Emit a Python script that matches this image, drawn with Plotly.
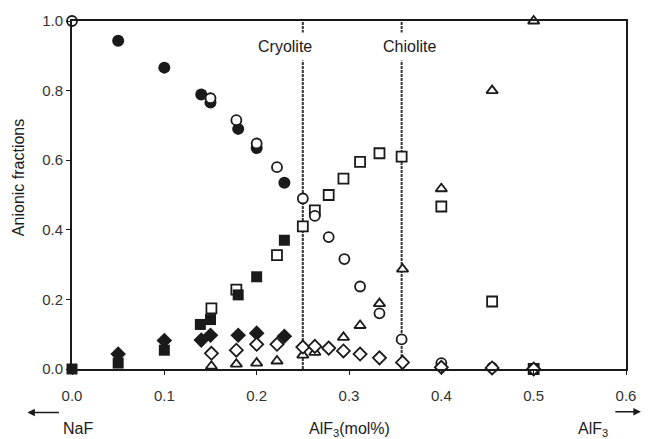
import plotly.graph_objects as go

# Filled circles
fc_x = [0.05, 0.10, 0.14, 0.15, 0.18, 0.20, 0.23]
fc_y = [0.943, 0.866, 0.789, 0.766, 0.69, 0.635, 0.535]
# Open circles
oc_x = [0.0, 0.15, 0.178, 0.20, 0.222, 0.25, 0.263, 0.278, 0.295, 0.312, 0.333, 0.357, 0.40, 0.455, 0.50]
oc_y = [1.0, 0.778, 0.715, 0.648, 0.58, 0.49, 0.44, 0.379, 0.316, 0.237, 0.16, 0.085, 0.017, 0.004, 0.0]
# Filled squares
fs_x = [0.0, 0.05, 0.10, 0.139, 0.15, 0.18, 0.20, 0.23]
fs_y = [0.0, 0.017, 0.054, 0.128, 0.142, 0.213, 0.265, 0.37]
# Open squares
os_x = [0.151, 0.178, 0.222, 0.25, 0.263, 0.278, 0.294, 0.312, 0.333, 0.357, 0.40, 0.455, 0.50]
os_y = [0.174, 0.228, 0.327, 0.41, 0.456, 0.50, 0.547, 0.595, 0.62, 0.61, 0.467, 0.194, 0.0]
# Filled diamonds
fd_x = [0.05, 0.10, 0.14, 0.15, 0.18, 0.20, 0.23]
fd_y = [0.043, 0.082, 0.083, 0.097, 0.097, 0.103, 0.094]
# Open diamonds
od_x = [0.151, 0.178, 0.20, 0.222, 0.25, 0.263, 0.278, 0.294, 0.312, 0.333, 0.358, 0.40, 0.455, 0.50]
od_y = [0.045, 0.054, 0.071, 0.071, 0.063, 0.065, 0.06, 0.052, 0.043, 0.032, 0.019, 0.005, 0.003, 0.0]
# Open triangles
ot_x = [0.151, 0.178, 0.20, 0.222, 0.25, 0.263, 0.278, 0.294, 0.312, 0.333, 0.358, 0.40, 0.455, 0.50]
ot_y = [0.008, 0.014, 0.017, 0.023, 0.04, 0.048, 0.063, 0.091, 0.125, 0.188, 0.287, 0.518, 0.80, 1.0]

phases = ["Cryolite", "Chiolite"]
phase_x = [0.25, 0.357]

x_ticks = [0.0, 0.1, 0.2, 0.3, 0.4, 0.5, 0.6]
y_ticks = [0.0, 0.2, 0.4, 0.6, 0.8, 1.0]

INK = "#1a1a1a"
FONT = "Liberation Sans, Arial, sans-serif"

fig = go.Figure()

# vertical phase lines
for px in phase_x:
    fig.add_trace(go.Scatter(x=[px, px], y=[0, 1], mode="lines",
                             line=dict(color="#333", width=2, dash="3px,1px"),
                             hoverinfo="skip", showlegend=False, cliponaxis=False))

def add(x, y, symbol, size, filled):
    fig.add_trace(go.Scatter(
        x=x, y=y, mode="markers", showlegend=False, cliponaxis=False,
        marker=dict(symbol=symbol, size=size,
                    color=INK if filled else "white",
                    line=dict(color=INK, width=0 if filled else 1.8))))

add(os_x, os_y, "square", 10, False)
add(fs_x, fs_y, "square", 11, True)
add(fc_x, fc_y, "circle", 12, True)
add(oc_x, oc_y, "circle", 10, False)
add(ot_x, ot_y, "triangle-up", 10, False)
add(fd_x, fd_y, "diamond", 12, True)
add(od_x, od_y, "diamond", 10, False)

ann = []
label_x = [0.2307, 0.365]
for name, lx in zip(phases, label_x):
    ann.append(dict(x=lx, y=0.926, xref="x", yref="y", text=name, showarrow=False,
                    xanchor="center", yanchor="middle",
                    font=dict(size=16, color=INK, family=FONT),
                    bgcolor="white", borderpad=5))

def txt(px, py, text, size=16, angle=0):
    return dict(x=(px - 72) / 559, y=(369 - py) / 351, xref="paper", yref="paper",
                text=text, showarrow=False, textangle=angle,
                xanchor="center", yanchor="middle",
                font=dict(size=size, color=INK, family=FONT))

ann += [
    txt(18, 176, "Anionic fractions", 16, -90),
    txt(352, 430, "AlF<sub>3</sub>(mol%)"),
    txt(78, 429, "NaF"),
    txt(598, 430, "AlF<sub>3</sub>"),
    dict(x=(27 - 72) / 559, y=(369 - 413) / 351, xref="paper", yref="paper",
         text="", showarrow=True, ax=33, ay=0, arrowhead=2, arrowsize=1,
         arrowwidth=1.5, arrowcolor=INK),
    dict(x=(646 - 72) / 559, y=(369 - 412) / 351, xref="paper", yref="paper",
         text="", showarrow=True, ax=-27, ay=0, arrowhead=2, arrowsize=1,
         arrowwidth=1.5, arrowcolor=INK),
]

fig.update_layout(
    width=648, height=439,
    margin=dict(l=72, r=17, t=18, b=70),
    paper_bgcolor="white", plot_bgcolor="white",
    font=dict(family=FONT, color=INK, size=15),
    annotations=ann,
    xaxis=dict(range=[0, 0.6], tickvals=x_ticks, ticktext=[f"{v:.1f}" for v in x_ticks],
               showline=True, mirror=True, linecolor=INK, linewidth=2,
               ticks="outside", ticklen=4, tickcolor=INK, showgrid=False, zeroline=False,
               ticklabelstandoff=8,
               tickfont=dict(size=15, color="#333")),
    yaxis=dict(range=[0, 1], tickvals=y_ticks, ticktext=[f"{v:.1f}" for v in y_ticks],
               showline=True, mirror=True, linecolor=INK, linewidth=2,
               ticks="outside", ticklen=4, tickcolor=INK, showgrid=False, zeroline=False,
               tickfont=dict(size=15, color="#333")),
)

fig.write_html("out.html", config={"displayModeBar": False},
               post_script="document.body.style.margin='0';document.body.style.overflow='hidden';")
